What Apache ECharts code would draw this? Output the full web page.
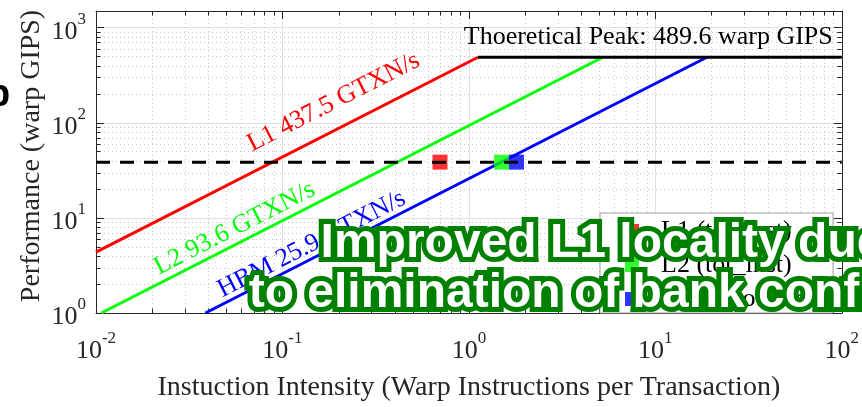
<!DOCTYPE html>
<html>
<head>
<meta charset="utf-8">
<script src="https://cdn.jsdelivr.net/npm/echarts@6/dist/echarts.min.js"></script>
<style>
html,body{margin:0;padding:0;background:#fff;}
#c{width:862px;height:407px;}
</style>
</head>
<body>
<div id="c"></div>
<script>
// ---- data ----
const roofNames = ['L1', 'L2', 'HBM'];
const roofBandwidths = [437.5, 93.6, 25.9];          // GTXN/s
const roofColors = ['#ff0000', '#00ff00', '#0000ff'];
const peakGIPS = 489.6;
const pointNames = ['L1 (tot_inst)', 'L2 (tot_inst)', 'HBM (tot_inst)'];
const pointIntensity = [0.70, 1.50, 1.80];
const pointPerf = [38.6, 38.6, 38.6];
const dashedLevel = 38.6;
const xRange = [0.01, 100];
const yRange = [1, 1500];
const xTickLabels = ['10^-2', '10^-1', '10^0', '10^1', '10^2'];
const yTickLabels = ['10^0', '10^1', '10^2', '10^3'];
const xTitle = 'Instuction Intensity (Warp Instructions per Transaction)';
const yTitle = 'Performance (warp GIPS)';
const peakText = 'Thoeretical Peak: 489.6 warp GIPS';
const overlayText = 'Improved L1 locality due\nto elimination of bank conflicts';

// minor grid positions (2..9 within each decade)
function minorValues(lo, hi) {
  const out = [];
  for (let k = Math.floor(Math.log10(lo)); k < Math.ceil(Math.log10(hi)); k++) {
    for (let m = 2; m <= 9; m++) {
      const v = m * Math.pow(10, k);
      if (v > lo && v < hi) out.push(v);
    }
  }
  return out;
}
const xMinor = minorValues(xRange[0], xRange[1]);
const yMinor = minorValues(yRange[0], yRange[1]);

const AX = '#262626';
const SERIF = '"Liberation Serif", "Times New Roman", serif';

function expLabel(v) {
  const l = Math.log10(v);
  const e = Math.round(l);
  if (Math.abs(l - e) > 1e-6) return '';
  return '{b|10}{s|' + e + '}';
}
const richLab = {
  b: { fontSize: 26, fontFamily: SERIF, color: AX, lineHeight: 26, verticalAlign: 'bottom' },
  s: { fontSize: 17, fontFamily: SERIF, color: AX, lineHeight: 34, verticalAlign: 'top' }
};

const chart = echarts.init(document.getElementById('c'));

// roofline segments
const roofSeries = roofBandwidths.map((bw, i) => {
  const x0 = Math.max(xRange[0], yRange[0] / bw);
  const ridge = peakGIPS / bw;
  return {
    type: 'line', name: roofNames[i], data: [[x0, bw * x0], [ridge, peakGIPS]],
    showSymbol: false, symbol: 'none', silent: true, z: 3,
    lineStyle: { color: roofColors[i], width: 3 }
  };
});
const peakSeries = {
  type: 'line', name: 'peak', data: [[peakGIPS / roofBandwidths[0], peakGIPS], [xRange[1], peakGIPS]],
  showSymbol: false, symbol: 'none', silent: true, z: 3,
  lineStyle: { color: '#000', width: 3 }
};
const dashSeries = {
  type: 'line', name: 'dash', data: [[xRange[0], dashedLevel], [xRange[1], dashedLevel]],
  showSymbol: false, symbol: 'none', silent: true, z: 6,
  lineStyle: { color: '#000', width: 3, type: [14, 10] }
};
const pointSeries = pointNames.map((n, i) => ({
  type: 'scatter', name: n, data: [[pointIntensity[i], pointPerf[i]]],
  symbol: 'rect', symbolSize: 15, z: 5,
  itemStyle: { color: roofColors[i] }
}));

function px(v) { return Math.round(v) + 0.5; }
const minorXSeries = {
  type: 'custom', silent: true, z: 1,
  data: xMinor.map(v => [v, yRange[0]]),
  renderItem: function (params, api) {
    const cs = params.coordSys;
    const x = px(api.coord([api.value(0), yRange[0]])[0]);
    const b = cs.y + cs.height, t = cs.y;
    return { type: 'group', children: [
      { type: 'line', shape: { x1: x, y1: t, x2: x, y2: b }, style: { stroke: '#c8c8c8', lineWidth: 1, lineDash: [1, 3] } },
      { type: 'line', shape: { x1: x, y1: b, x2: x, y2: b - 4.5 }, style: { stroke: AX, lineWidth: 1 } },
      { type: 'line', shape: { x1: x, y1: t, x2: x, y2: t + 4.5 }, style: { stroke: AX, lineWidth: 1 } }
    ] };
  }
};
const minorYSeries = {
  type: 'custom', silent: true, z: 1,
  data: yMinor.map(v => [xRange[0], v]),
  renderItem: function (params, api) {
    const cs = params.coordSys;
    const y = px(api.coord([xRange[0], api.value(1)])[1]);
    const l = cs.x, r = cs.x + cs.width;
    return { type: 'group', children: [
      { type: 'line', shape: { x1: l, y1: y, x2: r, y2: y }, style: { stroke: '#c8c8c8', lineWidth: 1, lineDash: [1, 3] } },
      { type: 'line', shape: { x1: l, y1: y, x2: l + 4.5, y2: y }, style: { stroke: AX, lineWidth: 1 } },
      { type: 'line', shape: { x1: r, y1: y, x2: r - 4.5, y2: y }, style: { stroke: AX, lineWidth: 1 } }
    ] };
  }
};

const option = {
  animation: false,
  backgroundColor: '#fff',
  grid: { left: 96, right: 15, top: 11, bottom: 84, containLabel: false },
  legend: {
    data: pointNames, orient: 'vertical', left: 600, top: 213,
    icon: 'rect', itemWidth: 14, itemHeight: 14, itemGap: 8,
    padding: [5, 11, 1, 25], backgroundColor: '#fff', borderColor: '#a0a0a0', borderWidth: 1,
    selectedMode: false, z: 20,
    textStyle: { fontFamily: SERIF, fontSize: 26, color: '#000', padding: [0, 0, 0, 17] }
  },
  xAxis: [
    { type: 'log', logBase: 10, min: xRange[0], max: xRange[1], position: 'bottom',
      axisLine: { show: true, lineStyle: { color: AX, width: 1 } },
      axisTick: { show: true, inside: true, length: 8, lineStyle: { color: AX } },
      axisLabel: { formatter: expLabel, rich: richLab, margin: 17, showMinLabel: true, showMaxLabel: true },
      splitLine: { show: true, lineStyle: { color: '#e2e2e2', width: 1 } },
      name: xTitle, nameLocation: 'middle', nameGap: 61,
      nameTextStyle: { fontFamily: SERIF, fontSize: 28, color: AX } },
    { type: 'log', logBase: 10, min: xRange[0], max: xRange[1], position: 'top',
      axisLine: { show: true, lineStyle: { color: AX, width: 1 } },
      axisTick: { show: true, inside: true, length: 8, lineStyle: { color: AX } },
      axisLabel: { show: false }, splitLine: { show: false } }
  ],
  yAxis: [
    { type: 'log', logBase: 10, min: yRange[0], max: yRange[1], position: 'left',
      axisLine: { show: true, lineStyle: { color: AX, width: 1 } },
      axisTick: { show: true, inside: true, length: 8, lineStyle: { color: AX } },
      axisLabel: { formatter: expLabel, rich: richLab, margin: 10 },
      splitLine: { show: true, lineStyle: { color: '#e2e2e2', width: 1 } } },
    { type: 'log', logBase: 10, min: yRange[0], max: yRange[1], position: 'right',
      axisLine: { show: true, lineStyle: { color: AX, width: 1 } },
      axisTick: { show: true, inside: true, length: 8, lineStyle: { color: AX } },
      axisLabel: { show: false }, splitLine: { show: false } }
  ],
  series: [minorXSeries, minorYSeries].concat(roofSeries, [peakSeries], pointSeries, [dashSeries])
};
chart.setOption(option);

// ---- text annotations positioned through the chart's own scales ----
const labelStartX = [0.073, 0.0231, 0.0506];
const labelGap = [13, 1, -1];
const labelSize = 26;
function toPx(x, y) { return chart.convertToPixel({ xAxisIndex: 0, yAxisIndex: 0 }, [x, y]); }
const graphics = roofBandwidths.map((bw, i) => {
  const p = toPx(labelStartX[i], bw * labelStartX[i]);
  const q = toPx(labelStartX[i] * 10, bw * labelStartX[i] * 10);
  const ang = Math.atan2(p[1] - q[1], q[0] - p[0]);
  return {
    type: 'text', x: p[0] - 2, y: p[1] - labelGap[i], rotation: ang, z: 10,
    style: { text: roofNames[i] + ' ' + bw + ' GTXN/s', fill: roofColors[i],
      font: labelSize + 'px ' + SERIF, align: 'left', verticalAlign: 'bottom' }
  };
});
const pk = toPx(xRange[1], peakGIPS);
graphics.push({
  type: 'text', x: pk[0] - 9, y: pk[1] - 7, z: 10,
  style: { text: peakText, fill: '#000', font: '26px ' + SERIF, align: 'right', verticalAlign: 'bottom' }
});
graphics.push({
  type: 'text', x: 32, y: 156, rotation: Math.PI / 2, z: 10,
  style: { text: yTitle, fill: AX, font: '28px ' + SERIF, align: 'center', verticalAlign: 'middle' }
});
graphics.push({
  type: 'text', x: -13, y: 115, z: 10,
  style: { text: 'b', fill: '#000', font: 'bold 38px "Liberation Sans", Arial, sans-serif', align: 'left', verticalAlign: 'bottom' }
});
graphics.push({
  type: 'text', x: 602, y: 219, z: 100,
  style: { text: overlayText, fill: '#ffffff', stroke: '#008000', lineWidth: 10,
    shadowBlur: 10, shadowColor: 'rgba(0,128,0,1)',
    font: 'bold 48px "Liberation Sans", Arial, sans-serif', lineHeight: 50,
    align: 'center', verticalAlign: 'top' }
});
chart.setOption({ graphic: graphics });
</script>
</body>
</html>
